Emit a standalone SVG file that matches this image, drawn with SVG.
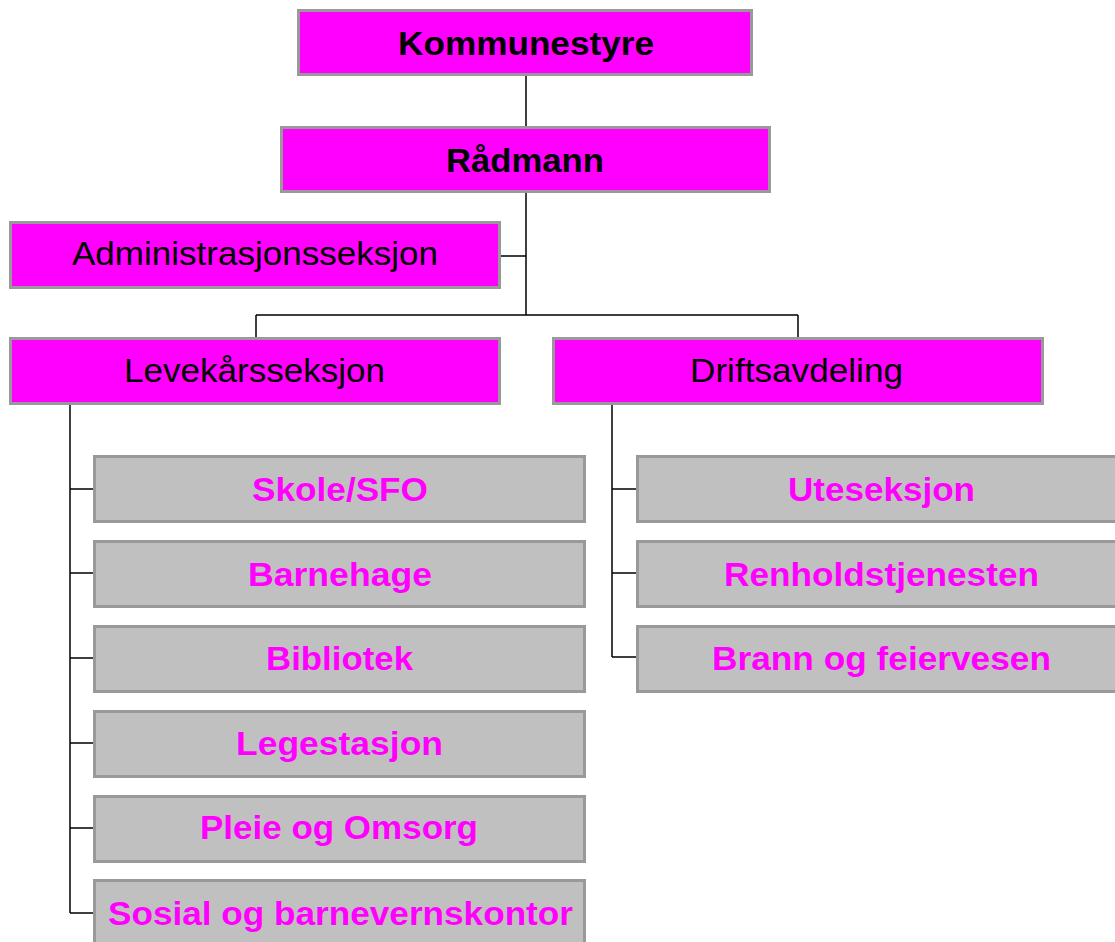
<svg xmlns="http://www.w3.org/2000/svg" width="1115" height="942" viewBox="0 0 1115 942">
<style>
.pk{fill:#FF00FF;stroke:#999999;stroke-width:3}
.gr{fill:#C0C0C0;stroke:#999999;stroke-width:3}
.tb{font-family:"Liberation Sans",Arial,sans-serif;font-size:34px;font-weight:bold;fill:#000;text-anchor:middle}
.tn{font-family:"Liberation Sans",Arial,sans-serif;font-size:33px;fill:#000;text-anchor:middle}
.tm{font-family:"Liberation Sans",Arial,sans-serif;font-size:33px;font-weight:bold;fill:#FF00FF;text-anchor:middle}
.ln{stroke:#000;stroke-width:1.5;fill:none}
</style>
<rect width="1115" height="942" fill="#fff"/>
<g id="connectors">
<path class="ln" d="M526 75V127M526 192V315M500 256H526M256 315H798M256 315V338M798 315V338"/>
<path class="ln" d="M70 404V913M70 489H93M70 573H93M70 658H93M70 743H93M70 828H93M70 913H93"/>
<path class="ln" d="M612 404V657M612 489H636M612 573H636M612 657H636"/>
</g>
<g id="kommunestyre"><rect class="pk" x="298.5" y="10.5" width="453" height="64"/><text class="tb" x="526" y="55" textLength="256" lengthAdjust="spacingAndGlyphs">Kommunestyre</text></g>
<g id="radmann"><rect class="pk" x="281.5" y="127.5" width="488" height="64"/><text class="tb" x="525" y="172" textLength="158" lengthAdjust="spacingAndGlyphs">Rådmann</text></g>
<g id="admin"><rect class="pk" x="10.5" y="222.5" width="489" height="65"/><text class="tn" x="255" y="265" textLength="366" lengthAdjust="spacingAndGlyphs">Administrasjonsseksjon</text></g>
<g id="levekar"><rect class="pk" x="10.5" y="338.5" width="489" height="65"/><text class="tn" x="254.5" y="382" textLength="261" lengthAdjust="spacingAndGlyphs">Levekårsseksjon</text></g>
<g id="drift"><rect class="pk" x="553.5" y="338.5" width="489" height="65"/><text class="tn" x="796.5" y="382" textLength="213" lengthAdjust="spacingAndGlyphs">Driftsavdeling</text></g>
<g id="skole"><rect class="gr" x="94.5" y="456.5" width="490" height="65"/><text class="tm" x="340" y="501" textLength="176" lengthAdjust="spacingAndGlyphs">Skole/SFO</text></g>
<g id="barnehage"><rect class="gr" x="94.5" y="541.5" width="490" height="65"/><text class="tm" x="340" y="586" textLength="184" lengthAdjust="spacingAndGlyphs">Barnehage</text></g>
<g id="bibliotek"><rect class="gr" x="94.5" y="626.5" width="490" height="65"/><text class="tm" x="339.5" y="670" textLength="147" lengthAdjust="spacingAndGlyphs">Bibliotek</text></g>
<g id="legestasjon"><rect class="gr" x="94.5" y="711.5" width="490" height="65"/><text class="tm" x="339.5" y="755" textLength="207" lengthAdjust="spacingAndGlyphs">Legestasjon</text></g>
<g id="pleie"><rect class="gr" x="94.5" y="796.5" width="490" height="65"/><text class="tm" x="339" y="839" textLength="278" lengthAdjust="spacingAndGlyphs">Pleie og Omsorg</text></g>
<g id="sosial"><rect class="gr" x="94.5" y="880.5" width="490" height="65"/><text class="tm" x="340.5" y="925" textLength="465" lengthAdjust="spacingAndGlyphs">Sosial og barnevernskontor</text></g>
<g id="uteseksjon"><rect class="gr" x="637.5" y="456.5" width="490" height="65"/><text class="tm" x="881.5" y="501" textLength="187" lengthAdjust="spacingAndGlyphs">Uteseksjon</text></g>
<g id="renhold"><rect class="gr" x="637.5" y="541.5" width="490" height="65"/><text class="tm" x="881.5" y="586" textLength="315" lengthAdjust="spacingAndGlyphs">Renholdstjenesten</text></g>
<g id="brann"><rect class="gr" x="637.5" y="626.5" width="490" height="65"/><text class="tm" x="881.5" y="670" textLength="339" lengthAdjust="spacingAndGlyphs">Brann og feiervesen</text></g>
</svg>
